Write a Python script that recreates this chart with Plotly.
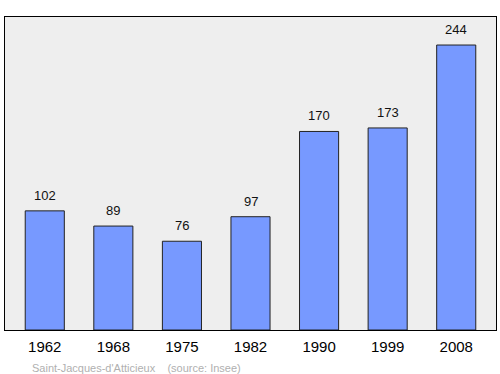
import plotly.graph_objects as go

years = ["1962", "1968", "1975", "1982", "1990", "1999", "2008"]
population = [102, 89, 76, 97, 170, 173, 244]
source_text = "Saint-Jacques-d'Atticieux    (source: Insee)"

fig = go.Figure()
fig.add_trace(go.Bar(
    x=years, y=population, width=0.57,
    marker=dict(color="#7799ff", line=dict(color="#222222", width=1)),
    hoverinfo="x+y",
))
for i, v in enumerate(population):
    fig.add_annotation(x=i, y=v, xref="x", yref="y", text=str(v), showarrow=False,
                       yanchor="bottom", yshift=6,
                       font=dict(family="Liberation Sans, Arial", size=13, color="#111"))

fig.add_annotation(xref="paper", yref="paper", x=0.05, y=-0.095, xanchor="left", yanchor="top",
                   text=source_text.replace("    ", "&nbsp;&nbsp;&nbsp;&nbsp;"), showarrow=False,
                   font=dict(family="Liberation Sans, Arial", size=11, color="#b0b0b0"))

fig.update_layout(
    width=500, height=374,
    margin=dict(l=5, r=4, t=17, b=44),
    paper_bgcolor="white", plot_bgcolor="#eeeeee",
    showlegend=False,
    xaxis=dict(type="category", range=[-0.58, 6.58], showgrid=False, zeroline=False,
               showline=True, mirror=True, linecolor="#000", linewidth=1.2,
               ticks="outside", ticklen=3, tickcolor="rgba(0,0,0,0)",
               tickfont=dict(family="Liberation Sans, Arial", size=15, color="#000")),
    yaxis=dict(range=[0, 268], showgrid=False, zeroline=False, showticklabels=False,
               showline=True, mirror=True, linecolor="#000", linewidth=1.2, ticks=""),
)
fig.write_html("out.html", config={"displayModeBar": False},
               post_script="document.body.style.margin='0';document.body.style.overflow='hidden';")
